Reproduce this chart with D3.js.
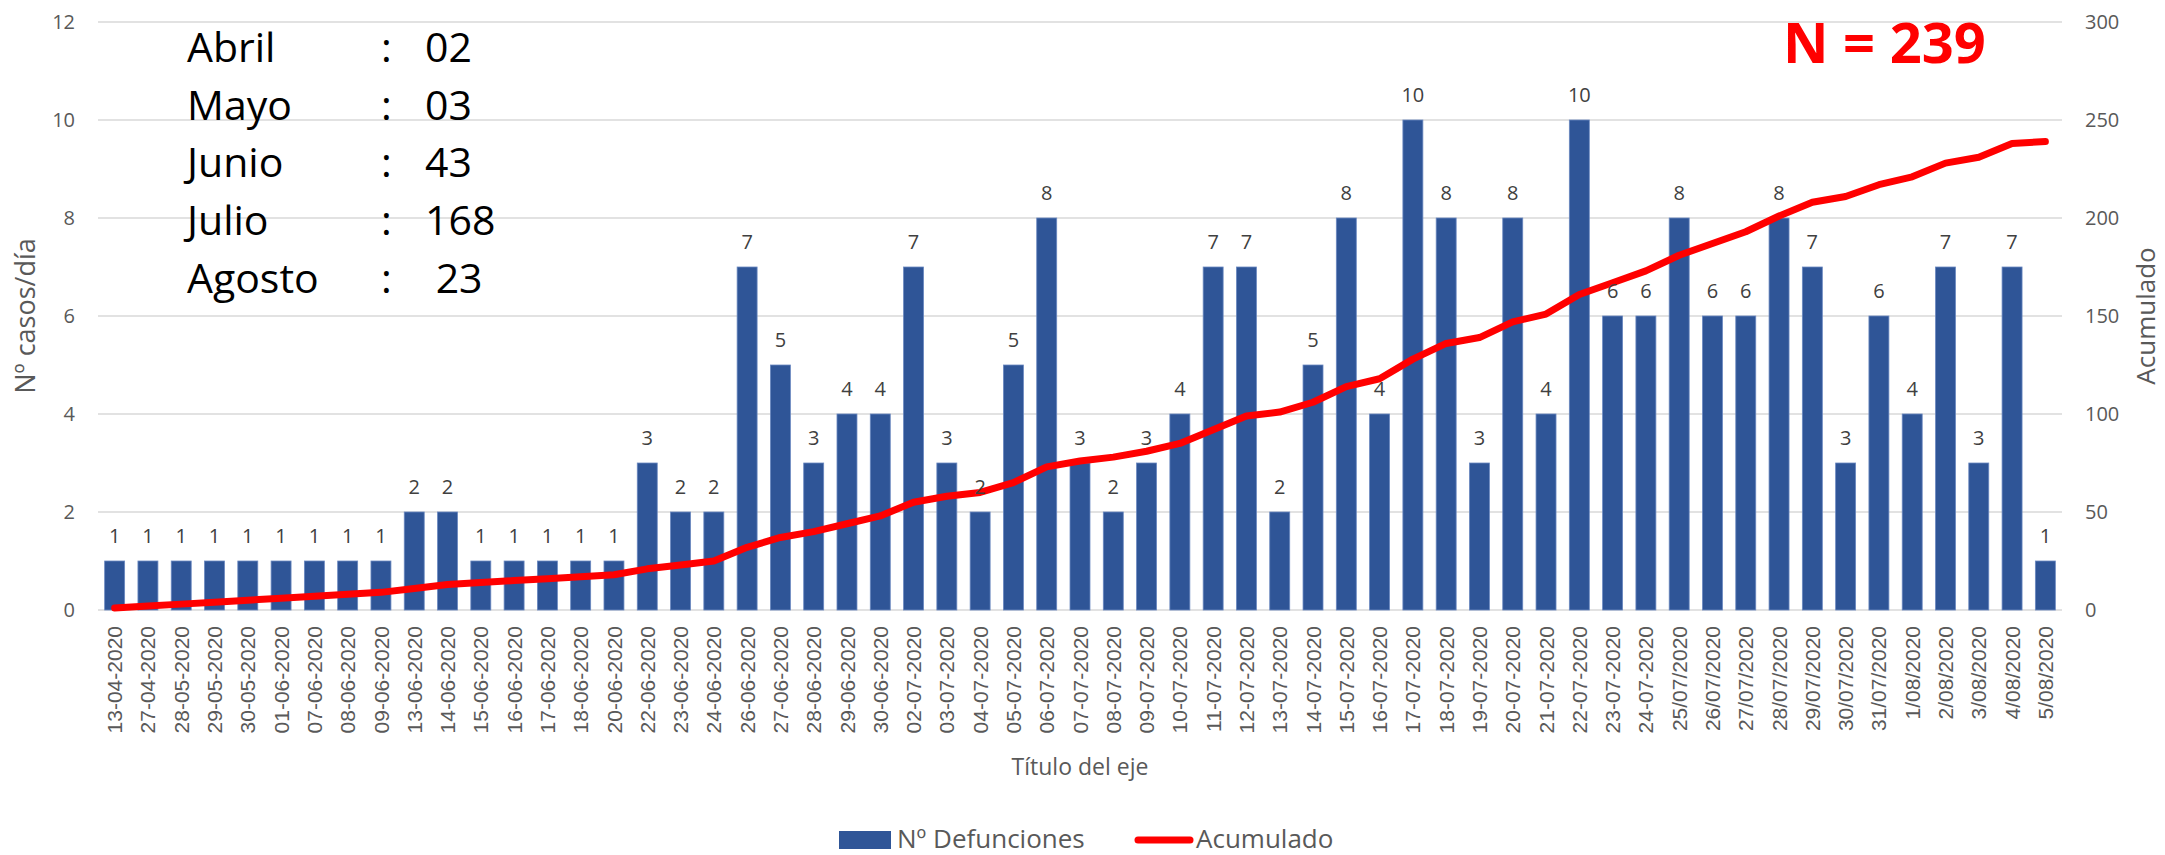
<!DOCTYPE html>
<html>
<head>
<meta charset="utf-8">
<script src="https://cdn.jsdelivr.net/npm/d3@7"></script>
<style>
  html, body { margin: 0; padding: 0; background: #fff; }
  svg { display: block; }
</style>
</head>
<body>
<svg id="chart" width="2165" height="855"></svg>
<script>
const categories = ["13-04-2020","27-04-2020","28-05-2020","29-05-2020","30-05-2020","01-06-2020","07-06-2020","08-06-2020","09-06-2020","13-06-2020","14-06-2020","15-06-2020","16-06-2020","17-06-2020","18-06-2020","20-06-2020","22-06-2020","23-06-2020","24-06-2020","26-06-2020","27-06-2020","28-06-2020","29-06-2020","30-06-2020","02-07-2020","03-07-2020","04-07-2020","05-07-2020","06-07-2020","07-07-2020","08-07-2020","09-07-2020","10-07-2020","11-07-2020","12-07-2020","13-07-2020","14-07-2020","15-07-2020","16-07-2020","17-07-2020","18-07-2020","19-07-2020","20-07-2020","21-07-2020","22-07-2020","23-07-2020","24-07-2020","25/07/2020","26/07/2020","27/07/2020","28/07/2020","29/07/2020","30/07/2020","31/07/2020","1/08/2020","2/08/2020","3/08/2020","4/08/2020","5/08/2020"];
const defunciones = [1,1,1,1,1,1,1,1,1,2,2,1,1,1,1,1,3,2,2,7,5,3,4,4,7,3,2,5,8,3,2,3,4,7,7,2,5,8,4,10,8,3,8,4,10,6,6,8,6,6,8,7,3,6,4,7,3,7,1];
const leftTicks = [0,2,4,6,8,10,12];
const rightTicks = [0,50,100,150,200,250,300];
const monthNames = ["Abril","Mayo","Junio","Julio","Agosto"];
const monthValues = ["02","03","43","168"," 23"];
const totalLabel = "N = 239";
const seriesNames = ["Nº Defunciones","Acumulado"];
const axisTitles = {x: "Título del eje", yLeft: "Nº casos/día", yRight: "Acumulado"};

const acumulado = Array.from(d3.cumsum(defunciones));

const svg = d3.select("#chart");
const plot = {left: 98, right: 2062, top: 22, bottom: 610};
const BAR = "#2F5597", RED = "#FF0000", GRID = "#D9D9D9", TXT = "#595959";
const FONT = "'Open Sans', sans-serif";

const x = d3.scaleBand().domain(categories).range([plot.left, plot.right]).paddingInner(0.4).paddingOuter(0.2);
const yL = d3.scaleLinear().domain([0, 12]).range([plot.bottom, plot.top]);
const yR = d3.scaleLinear().domain([0, 300]).range([plot.bottom, plot.top]);

// gridlines
svg.append("g").selectAll("line").data(leftTicks).join("line")
  .attr("x1", plot.left).attr("x2", plot.right)
  .attr("y1", d => yL(d)).attr("y2", d => yL(d))
  .attr("stroke", GRID).attr("stroke-width", 1.5);

// left axis
const gL = svg.append("g").attr("transform", `translate(${plot.left - 23},0)`)
  .call(d3.axisLeft(yL).tickValues(leftTicks).tickSize(0).tickPadding(0));
gL.select(".domain").remove();
gL.selectAll("text").attr("fill", TXT).attr("font-family", FONT).attr("font-size", 20);

// right axis
const gR = svg.append("g").attr("transform", `translate(${plot.right + 23},0)`)
  .call(d3.axisRight(yR).tickValues(rightTicks).tickSize(0).tickPadding(0));
gR.select(".domain").remove();
gR.selectAll("text").attr("fill", TXT).attr("font-family", FONT).attr("font-size", 20);

// bars
svg.append("g").selectAll("rect").data(categories).join("rect")
  .attr("x", d => x(d)).attr("width", x.bandwidth())
  .attr("y", (d, i) => yL(defunciones[i]))
  .attr("height", (d, i) => yL(0) - yL(defunciones[i]))
  .attr("fill", BAR).attr("stroke", "#6A88C0").attr("stroke-width", 0.8);

// x labels
svg.append("g").selectAll("text").data(categories).join("text")
  .attr("transform", d => `translate(${x(d) + x.bandwidth() / 2},626) rotate(-90)`)
  .attr("text-anchor", "end").attr("dy", "0.36em")
  .attr("font-family", "'Liberation Sans', Arial, sans-serif").attr("font-size", 21)
  .attr("fill", TXT).text(d => d);

// cumulative line
svg.append("path").datum(acumulado)
  .attr("d", d3.line().x((d, i) => x(categories[i]) + x.bandwidth() / 2).y(d => yR(d)))
  .attr("fill", "none").attr("stroke", RED).attr("stroke-width", 7)
  .attr("stroke-linejoin", "round").attr("stroke-linecap", "round");

// value labels
svg.append("g").selectAll("text").data(categories).join("text")
  .attr("x", d => x(d) + x.bandwidth() / 2)
  .attr("y", (d, i) => yL(defunciones[i]) - 18)
  .attr("text-anchor", "middle")
  .attr("font-family", FONT).attr("font-size", 20).attr("fill", "#404040")
  .text((d, i) => defunciones[i]);

// axis titles
svg.append("text").attr("transform", `translate(35,316) rotate(-90)`)
  .attr("text-anchor", "middle").attr("font-family", FONT).attr("font-size", 27)
  .attr("fill", TXT).text(axisTitles.yLeft);
svg.append("text").attr("transform", `translate(2155,316) rotate(-90)`)
  .attr("text-anchor", "middle").attr("font-family", FONT).attr("font-size", 26)
  .attr("fill", TXT).text(axisTitles.yRight);
svg.append("text").attr("x", (plot.left + plot.right) / 2).attr("y", 775)
  .attr("text-anchor", "middle").attr("font-family", FONT).attr("font-size", 23)
  .attr("fill", TXT).text(axisTitles.x);

// month box
const mb = svg.append("g");
monthNames.forEach((m, i) => {
  const yy = 62 + i * 57.7;
  mb.append("text").attr("x", 187).attr("y", yy).attr("font-family", FONT).attr("font-size", 41).attr("fill", "#000").text(m);
  mb.append("text").attr("x", 381).attr("y", yy).attr("font-family", FONT).attr("font-size", 41).attr("fill", "#000").text(":");
  mb.append("text").attr("x", 425).attr("y", yy).attr("font-family", FONT).attr("font-size", 41).attr("fill", "#000")
    .style("white-space", "pre").text(monthValues[i]);
});

// N = 239
svg.append("text").attr("x", 1783).attr("y", 63).attr("font-family", FONT).attr("font-weight", 700)
  .attr("font-size", 56).attr("fill", RED).text(totalLabel);

// legend
const lg = svg.append("g");
lg.append("rect").attr("x", 839).attr("y", 831).attr("width", 52).attr("height", 18).attr("fill", BAR);
lg.append("text").attr("x", 897).attr("y", 848).attr("font-family", FONT).attr("font-size", 26).attr("fill", TXT).text(seriesNames[0]);
lg.append("line").attr("x1", 1138).attr("x2", 1190).attr("y1", 840).attr("y2", 840)
  .attr("stroke", RED).attr("stroke-width", 7).attr("stroke-linecap", "round");
lg.append("text").attr("x", 1196).attr("y", 848).attr("font-family", FONT).attr("font-size", 26).attr("fill", TXT).text(seriesNames[1]);
</script>
</body>
</html>
